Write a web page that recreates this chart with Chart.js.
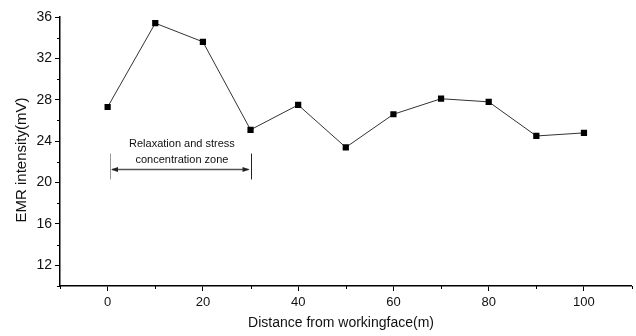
<!DOCTYPE html>
<html>
<head>
<meta charset="utf-8">
<script src="https://cdn.jsdelivr.net/npm/chart.js@4/dist/chart.umd.min.js"></script>
<style>
  html, body { margin: 0; padding: 0; background: #fff; }
  #wrap { width: 636px; height: 336px; }
</style>
</head>
<body>
<div id="wrap"><canvas id="chart" width="636" height="336"></canvas></div>
<script>
// data
const distances = [0, 10, 20, 30, 40, 50, 60, 70, 80, 90, 100];
const emrValues = [27.3, 35.4, 33.6, 25.1, 27.5, 23.4, 26.6, 28.1, 27.8, 24.5, 24.8];

const xMajorTicks = [0, 20, 40, 60, 80, 100];
const xMinorTicks = [-10, 10, 30, 50, 70, 90, 110];
const yMajorTicks = [12, 16, 20, 24, 28, 32, 36];
const yMinorTicks = [10, 14, 18, 22, 26, 30, 34];

const xTitle = 'Distance from workingface(m)';
const yTitle = 'EMR intensity(mV)';
const zoneLabel = ['Relaxation and stress', 'concentration zone'];
const zoneRange = [0.5, 30];   // start / end of the marked zone (m)

const FONT = '"Liberation Sans", Arial, sans-serif';

/* ===========================
   EXTRA DRAWING
=========================== */

const extras = {
  id: 'extras',
  afterDraw(chart) {
    const ctx = chart.ctx;
    const xs = chart.scales.x;
    const ys = chart.scales.y;
    const area = chart.chartArea;

    ctx.save();

    // minor ticks
    ctx.strokeStyle = '#000';
    ctx.lineWidth = 1;
    ctx.beginPath();
    xMinorTicks.forEach(v => {
      const px = Math.round(xs.getPixelForValue(v)) + 0.5;
      ctx.moveTo(px, area.bottom);
      ctx.lineTo(px, area.bottom + 3);
    });
    yMinorTicks.forEach(v => {
      const py = Math.round(ys.getPixelForValue(v)) + 0.5;
      ctx.moveTo(area.left, py);
      ctx.lineTo(area.left - 3, py);
    });
    ctx.stroke();

    // axis titles
    ctx.fillStyle = '#111';
    ctx.textAlign = 'center';
    ctx.textBaseline = 'middle';
    ctx.font = '14px ' + FONT;
    ctx.fillText(xTitle, 341, 323);

    ctx.save();
    ctx.translate(22, 160);
    ctx.rotate(-Math.PI / 2);
    ctx.font = '15px ' + FONT;
    ctx.fillText(yTitle, 0, 0);
    ctx.restore();

    // zone annotation
    const x0 = xs.getPixelForValue(zoneRange[0]);
    const x1 = xs.getPixelForValue(zoneRange[1]);
    const yTop = ys.getPixelForValue(22.8);
    const yBot = ys.getPixelForValue(20.3);
    const yArr = Math.round(ys.getPixelForValue(21.3)) + 0.5;

    ctx.lineWidth = 1;
    ctx.strokeStyle = '#999';
    ctx.beginPath();
    ctx.moveTo(Math.round(x0) + 0.5, yTop);
    ctx.lineTo(Math.round(x0) + 0.5, yBot);
    ctx.stroke();

    ctx.strokeStyle = '#222';
    ctx.beginPath();
    ctx.moveTo(Math.round(x1) + 0.5, yTop);
    ctx.lineTo(Math.round(x1) + 0.5, yBot);
    ctx.stroke();

    ctx.strokeStyle = '#555';
    ctx.lineWidth = 1.5;
    ctx.beginPath();
    ctx.moveTo(x0 + 2, yArr);
    ctx.lineTo(x1 - 2, yArr);
    ctx.stroke();

    ctx.fillStyle = '#222';
    ctx.beginPath();
    ctx.moveTo(x0 + 1, yArr);
    ctx.lineTo(x0 + 8, yArr - 2.5);
    ctx.lineTo(x0 + 8, yArr + 2.5);
    ctx.closePath();
    ctx.fill();
    ctx.beginPath();
    ctx.moveTo(x1 - 1, yArr);
    ctx.lineTo(x1 - 8, yArr - 2.5);
    ctx.lineTo(x1 - 8, yArr + 2.5);
    ctx.closePath();
    ctx.fill();

    ctx.fillStyle = '#111';
    ctx.font = '11px ' + FONT;
    ctx.fillText(zoneLabel[0], xs.getPixelForValue(15.6), ys.getPixelForValue(23.75));
    ctx.fillText(zoneLabel[1], xs.getPixelForValue(15.6), ys.getPixelForValue(22.2));

    ctx.restore();
  }
};

/* ===========================
   CHART
=========================== */

new Chart(document.getElementById('chart'), {
  type: 'line',
  data: {
    datasets: [{
      data: distances.map((d, i) => ({ x: d, y: emrValues[i] })),
      borderColor: '#333',
      borderWidth: 1,
      pointStyle: 'rect',
      pointRadius: 4.4,
      pointBackgroundColor: '#000',
      pointBorderColor: '#000',
      pointBorderWidth: 0,
      tension: 0
    }]
  },
  options: {
    responsive: false,
    animation: false,
    events: [],
    layout: { padding: { top: 17, right: 3, left: 0, bottom: 0 } },
    plugins: {
      legend: { display: false },
      tooltip: { enabled: false }
    },
    scales: {
      x: {
        type: 'linear',
        min: -10,
        max: 110,
        afterBuildTicks: s => { s.ticks = xMajorTicks.map(v => ({ value: v })); },
        afterFit: s => { s.height = 50; },
        border: { color: '#000', width: 1.5 },
        grid: { drawOnChartArea: false, drawTicks: true, tickLength: 5, color: '#000' },
        ticks: {
          color: '#111',
          padding: 4,
          maxRotation: 0,
          font: { family: FONT, size: 13 },
          callback: v => String(v)
        }
      },
      y: {
        type: 'linear',
        min: 10,
        max: 36,
        afterBuildTicks: s => { s.ticks = yMajorTicks.map(v => ({ value: v })); },
        afterFit: s => { s.width = 60; },
        border: { color: '#000', width: 1.5 },
        grid: { drawOnChartArea: false, drawTicks: true, tickLength: 5, color: '#000' },
        ticks: {
          color: '#111',
          padding: 3,
          font: { family: FONT, size: 14 },
          callback: v => String(v)
        }
      }
    }
  },
  plugins: [extras]
});
</script>
</body>
</html>
